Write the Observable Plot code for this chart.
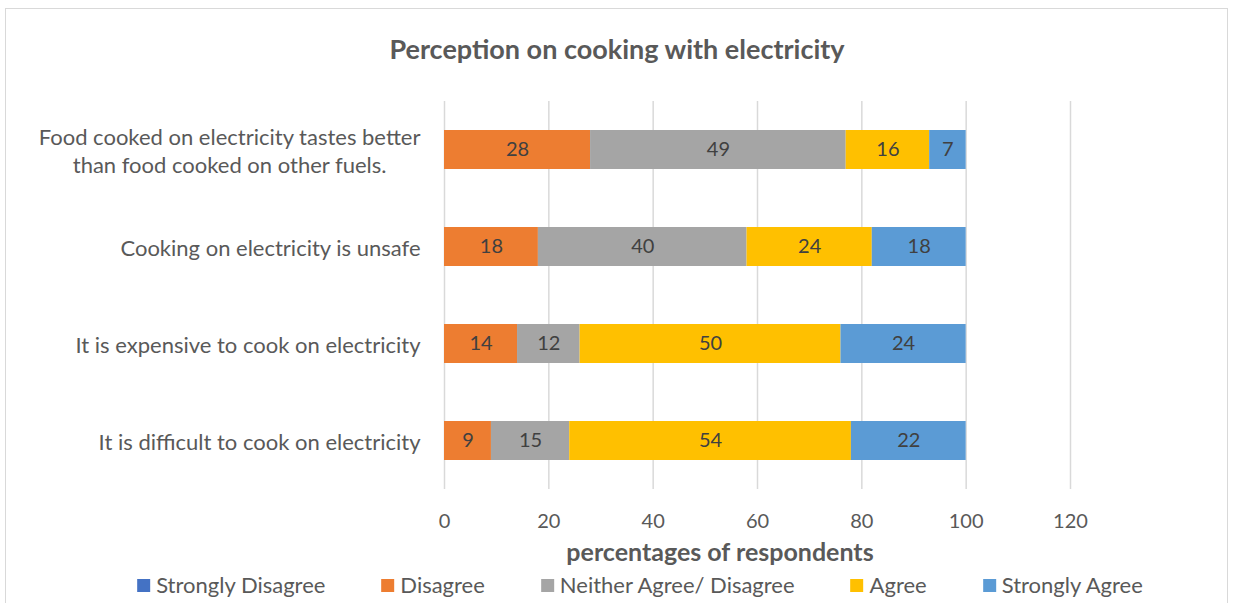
<!DOCTYPE html>
<html>
<head>
<meta charset="utf-8">
<script src="https://cdn.jsdelivr.net/npm/d3@7"></script>
<script src="https://cdn.jsdelivr.net/npm/@observablehq/plot@0.6"></script>
<style>
  html, body { margin: 0; padding: 0; background: #fff; }
  body { width: 1234px; height: 603px; position: relative; overflow: hidden;
         font-family: Lato, "Open Sans", "Noto Sans", sans-serif; color: #595959; }
  #frame { position: absolute; left: 5px; top: 8px; width: 1223px; height: 620px;
           border: 1px solid #d9d9d9; box-sizing: border-box; }
  #title { position: absolute; left: 0; width: 1234px; top: 33px; text-align: center;
           font-weight: bold; font-size: 27px; line-height: 32px; }
  #chart { position: absolute; left: 0; top: 76px; }
  #xtitle { position: absolute; top: 536px; left: 720px; transform: translateX(-50%);
            font-weight: bold; font-size: 25px; line-height: 30px; white-space: nowrap; }
  #legend { position: absolute; top: 571px; left: 640px; transform: translateX(-50%);
            display: flex; gap: 56px; white-space: nowrap; font-size: 22px; line-height: 28px; }
  .item { display: flex; align-items: center; }
  .sw { width: 13px; height: 13px; margin-right: 6px; }
</style>
</head>
<body>
<div id="frame"></div>
<div id="title">Perception on cooking with electricity</div>
<div id="chart"></div>
<div id="xtitle">percentages of respondents</div>
<div id="legend"></div>
<script>
// Survey statements (top to bottom) and response categories
const statements = [
  "Food cooked on electricity tastes better\nthan food cooked on other fuels.",
  "Cooking on electricity is unsafe",
  "It is expensive to cook on electricity",
  "It is difficult to cook on electricity"
];
const responses = ["Strongly Disagree", "Disagree", "Neither Agree/ Disagree", "Agree", "Strongly Agree"];
const colors = ["#4472C4", "#ED7D31", "#A5A5A5", "#FFC000", "#5B9BD5"];

// Percentage of respondents per statement, one array per response
const stronglyDisagree = [0, 0, 0, 0];
const disagree = [28, 18, 14, 9];
const neither = [49, 40, 12, 15];
const agree = [16, 24, 50, 54];
const stronglyAgree = [7, 18, 24, 22];

const xTicks = [0, 20, 40, 60, 80, 100, 120];

// Long-format rows with running totals for the stacked segments
const series = [stronglyDisagree, disagree, neither, agree, stronglyAgree];
const rows = [];
statements.forEach((s, i) => {
  let acc = 0;
  series.forEach((vals, j) => {
    const v = vals[i];
    rows.push({statement: s, response: responses[j], value: v, x1: acc, x2: acc + v});
    acc += v;
  });
});

const font = 'Lato, "Open Sans", "Noto Sans", sans-serif';

const chart = Plot.plot({
  width: 1234,
  height: 488,
  marginTop: 25,
  marginBottom: 75,
  marginLeft: 444,
  marginRight: 164,
  x: {domain: [0, 120], label: null},
  y: {domain: statements, paddingInner: 0.6, paddingOuter: 0.3, label: null},
  color: {domain: responses, range: colors},
  style: {fontFamily: font, color: "#595959", background: "transparent", overflow: "visible"},
  marks: [
    Plot.ruleX(xTicks, {stroke: "#d9d9d9", strokeWidth: 1.5}),
    Plot.barX(rows.filter(d => d.value > 0), {x1: "x1", x2: "x2", y: "statement", fill: "response"}),
    Plot.text(rows.filter(d => d.value > 0), {
      x: d => (d.x1 + d.x2) / 2, y: "statement", text: d => String(d.value),
      fill: "#404040", fontSize: 20
    }),
    Plot.axisX({ticks: xTicks, tickSize: 0, tickPadding: 24, fontSize: 20, fill: "#595959"}),
    Plot.axisY({tickSize: 0, tickPadding: 24, fontSize: 22, fill: "#595959", lineHeight: 1.27})
  ]
});
document.getElementById("chart").appendChild(chart);

// Multi-line category labels are centred on their longest line
chart.querySelectorAll('[aria-label="y-axis tick label"] text').forEach(t => {
  const spans = t.querySelectorAll("tspan");
  if (spans.length > 1) {
    const w = t.getBBox().width;
    t.setAttribute("text-anchor", "middle");
    spans.forEach(sp => sp.setAttribute("x", -w / 2));
  }
});

// Legend
const legend = document.getElementById("legend");
responses.forEach((r, i) => {
  const item = document.createElement("div");
  item.className = "item";
  const sw = document.createElement("span");
  sw.className = "sw";
  sw.style.background = colors[i];
  const label = document.createElement("span");
  label.textContent = r;
  item.appendChild(sw);
  item.appendChild(label);
  legend.appendChild(item);
});
</script>
</body>
</html>
